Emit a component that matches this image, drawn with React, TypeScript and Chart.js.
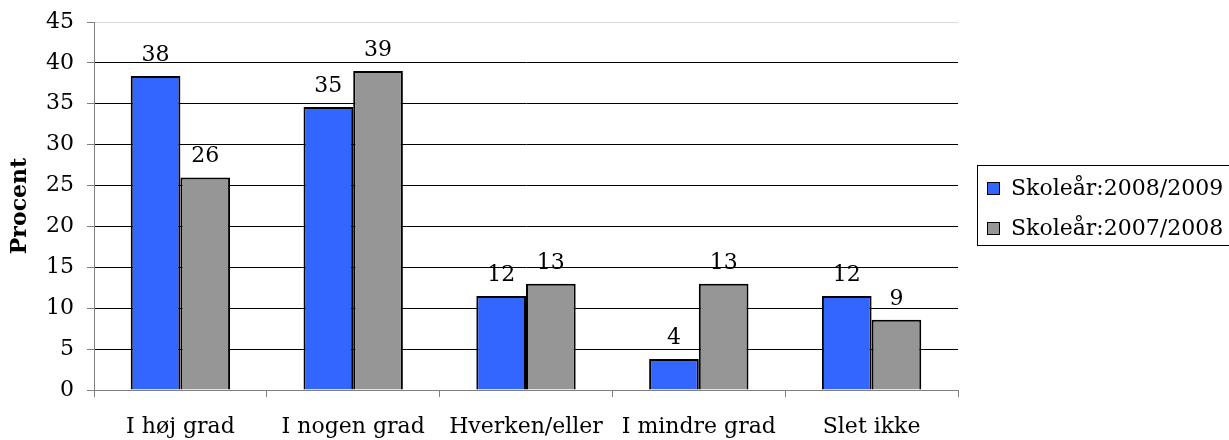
import React, { useEffect, useRef } from "react";
import { Chart, registerables } from "chart.js";

Chart.register(...registerables);

const categories = ["I høj grad", "I nogen grad", "Hverken/eller", "I mindre grad", "Slet ikke"];
const series2009 = [38.4, 34.6, 11.5, 3.8, 11.5];
const series2008 = [26.0, 39.0, 13.0, 13.0, 8.6];
const seriesLabels = ["Skoleår:2008/2009", "Skoleår:2007/2008"];
const yTicks = { min: 0, max: 45, step: 5 };

const FONT = "DejaVu Serif";
const FS = 22;

const valueLabels = {
  id: "valueLabels",
  afterDatasetsDraw(chart: any) {
    const ctx = chart.ctx;
    ctx.save();
    ctx.font = `${FS}px "${FONT}"`;
    ctx.fillStyle = "#000";
    ctx.textAlign = "center";
    ctx.textBaseline = "alphabetic";
    chart.data.datasets.forEach((ds: any, i: number) => {
      const meta = chart.getDatasetMeta(i);
      meta.data.forEach((bar: any, j: number) => {
        ctx.fillText(String(Math.round(ds.data[j])), bar.x, bar.y - 15);
      });
    });
    ctx.restore();
  },
};

const boxLegend = {
  id: "boxLegend",
  afterDraw(chart: any) {
    const ctx = chart.ctx;
    const area = chart.chartArea;
    const cy = (area.top + area.bottom) / 2;
    const left = area.right + 19;
    const top = cy - 41;
    ctx.save();
    ctx.strokeStyle = "#000";
    ctx.lineWidth = 1;
    ctx.strokeRect(left + 0.5, top + 0.5, 400, 80);
    ctx.font = `${FS}px "${FONT}"`;
    ctx.textAlign = "left";
    ctx.textBaseline = "middle";
    chart.data.datasets.forEach((ds: any, i: number) => {
      const y = cy - 18 + i * 40;
      ctx.fillStyle = ds.backgroundColor;
      ctx.fillRect(left + 10, y - 6, 13, 13);
      ctx.strokeStyle = "#000";
      ctx.strokeRect(left + 10.5, y - 5.5, 12, 12);
      ctx.fillStyle = "#000";
      ctx.fillText(ds.label, left + 34, y + 1);
    });
    ctx.restore();
  },
};

export default function App() {
  const ref = useRef<HTMLCanvasElement>(null);
  useEffect(() => {
    document.body.style.margin = "0";
    const chart = new Chart(ref.current as HTMLCanvasElement, {
      type: "bar",
      data: {
        labels: categories,
        datasets: [
          {
            label: seriesLabels[0],
            data: series2009,
            backgroundColor: "#3366ff",
            borderColor: "#000",
            borderWidth: 2,
            categoryPercentage: 0.575,
            barPercentage: 1,
          },
          {
            label: seriesLabels[1],
            data: series2008,
            backgroundColor: "#969696",
            borderColor: "#000",
            borderWidth: 2,
            categoryPercentage: 0.575,
            barPercentage: 1,
          },
        ],
      },
      options: {
        animation: false,
        responsive: false,
        maintainAspectRatio: false,
        layout: { padding: { left: 0, right: 271, top: 22, bottom: 0 } },
        plugins: {
          legend: { display: false },
          tooltip: { enabled: false },
        },
        scales: {
          x: {
            afterFit: (s: any) => {
              s.height = 50;
            },
            grid: {
              display: true,
              drawOnChartArea: false,
              drawTicks: true,
              tickLength: 7,
              color: "#808080",
              offset: true,
            },
            border: { color: "#808080" },
            ticks: {
              font: { family: FONT, size: FS },
              color: "#000",
              padding: 17,
              maxRotation: 0,
              autoSkip: false,
            },
          },
          y: {
            min: yTicks.min,
            max: yTicks.max,
            afterFit: (s: any) => {
              s.width = 94;
              s.paddingTop = 0;
              s.paddingBottom = 0;
            },
            ticks: {
              stepSize: yTicks.step,
              font: { family: FONT, size: FS },
              color: "#000",
              padding: 13,
            },
            grid: {
              color: (c: any) => (c.tick && c.tick.value === yTicks.max ? "#d9d9d9" : "#000"),
              tickColor: "#808080",
              tickLength: 7,
            },
            border: { color: "#808080" },
            title: {
              display: true,
              text: "Procent",
              font: { family: FONT, size: FS, weight: "bold" },
              color: "#000",
              padding: { top: 7, bottom: 0 },
            },
          },
        },
      },
      plugins: [valueLabels, boxLegend],
    });
    return () => chart.destroy();
  }, []);
  return (
    <div style={{ width: 1229, height: 440, overflow: "hidden" }}>
      <canvas ref={ref} width={1229} height={440} style={{ display: "block" }} />
    </div>
  );
}
